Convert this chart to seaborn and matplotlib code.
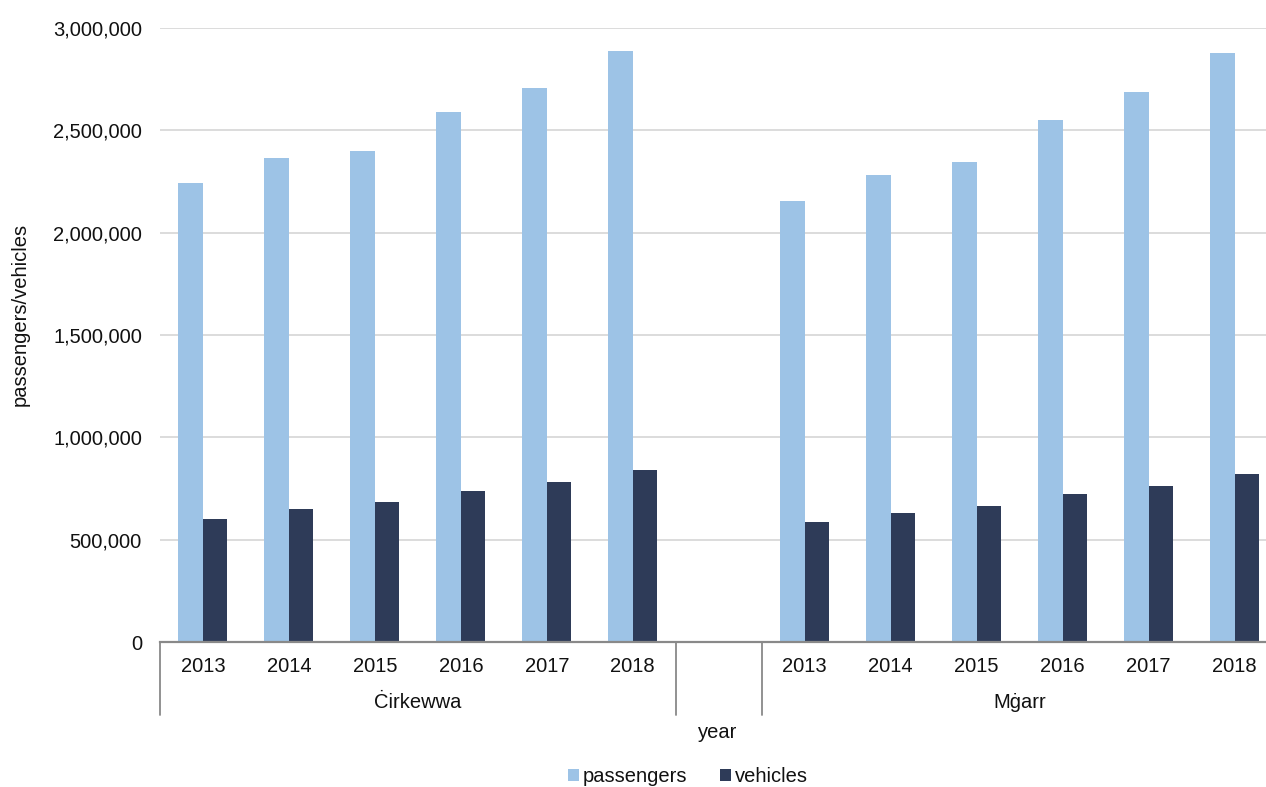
import pandas as pd
import matplotlib.pyplot as plt
import matplotlib.transforms as mtransforms
from matplotlib.ticker import FuncFormatter
import seaborn as sns

# data
years = [2013, 2014, 2015, 2016, 2017, 2018]
ports = ["Ċirkewwa", "Mġarr"]
cirkewwa_passengers = [2244000, 2366000, 2399000, 2590000, 2705000, 2887000]
mgarr_passengers = [2155000, 2282000, 2345000, 2550000, 2686000, 2876000]
cirkewwa_vehicles = [599000, 648000, 684000, 738000, 780000, 840000]
mgarr_vehicles = [585000, 630000, 666000, 721000, 762000, 821000]
series = ["passengers", "vehicles"]
colors = ["#9dc3e6", "#2e3b58"]

# long table, one empty slot between the two ports
rows = []
for port, pas, veh in [(ports[0], cirkewwa_passengers, cirkewwa_vehicles),
                       (ports[1], mgarr_passengers, mgarr_vehicles)]:
    for y, p, v in zip(years, pas, veh):
        rows.append({"slot": f"{port} {y}", "series": "passengers", "value": p})
        rows.append({"slot": f"{port} {y}", "series": "vehicles", "value": v})
df = pd.DataFrame(rows)
order = [f"{ports[0]} {y}" for y in years] + [" "] + [f"{ports[1]} {y}" for y in years]

sns.set_style("white")
plt.rcParams["font.family"] = ["Liberation Sans", "DejaVu Sans"]
plt.rcParams["font.size"] = 14.5
plt.rcParams["text.color"] = "#111111"
plt.rcParams["xtick.color"] = "#111111"
plt.rcParams["ytick.color"] = "#111111"
fs = 14.5

fig = plt.figure(figsize=(12.66, 7.87), dpi=100)
ax = fig.add_axes([160 / 1266, 145 / 787, 1117.5 / 1266, 614 / 787])

sns.barplot(data=df, x="slot", y="value", hue="series", order=order,
            hue_order=series, palette=colors, saturation=1, width=0.57,
            linewidth=0, ax=ax, legend=True)

ax.set_xlim(-0.5, len(order) - 0.5)
ax.set_ylim(0, 3000000)
ax.set_yticks(range(0, 3000001, 500000))
ax.yaxis.set_major_formatter(FuncFormatter(lambda v, p: f"{int(v):,}"))
ax.yaxis.grid(True, color="#d9d9d9", lw=1.3)
ax.set_axisbelow(True)
for s in ["top", "right", "left"]:
    ax.spines[s].set_visible(False)
ax.spines["bottom"].set_color("#898989")
ax.spines["bottom"].set_linewidth(1.6)
ax.tick_params(axis="y", length=0, pad=13, labelsize=fs)
ax.tick_params(axis="x", length=0, pad=11, labelsize=fs)
ax.set_xticks(range(len(order)))
ax.set_xticklabels([o.split(" ")[-1] for o in order])
ax.set_xlabel("")
ax.set_ylabel("")

# second level of the category axis
trans = mtransforms.blended_transform_factory(ax.transData, ax.transAxes)
for x in [-0.5, 5.5, 6.5, 12.5]:
    ax.plot([x, x], [0, -73 / 614], transform=trans, color="#898989",
            lw=1.3, clip_on=False)
ax.text(2.5, -61 / 614, ports[0], transform=trans, ha="center", va="center", fontsize=fs)
ax.text(9.5, -61 / 614, ports[1], transform=trans, ha="center", va="center", fontsize=fs)

fig.text(718 / 1266, 1 - 733 / 787, "year", ha="center", va="center", fontsize=fs)
fig.text(20 / 1266, 1 - 314 / 787, "passengers/vehicles", ha="center", va="center",
         rotation=90, fontsize=fs)

handles, labels = ax.get_legend_handles_labels()
ax.get_legend().remove()
fig.legend(handles, labels, loc="center", bbox_to_anchor=(688 / 1266, 1 - 777 / 787),
           ncol=2, frameon=False, fontsize=fs, handlelength=0.55, handleheight=0.55,
           handletextpad=0.2, columnspacing=1.6)

fig.savefig("out.png", dpi=100)
